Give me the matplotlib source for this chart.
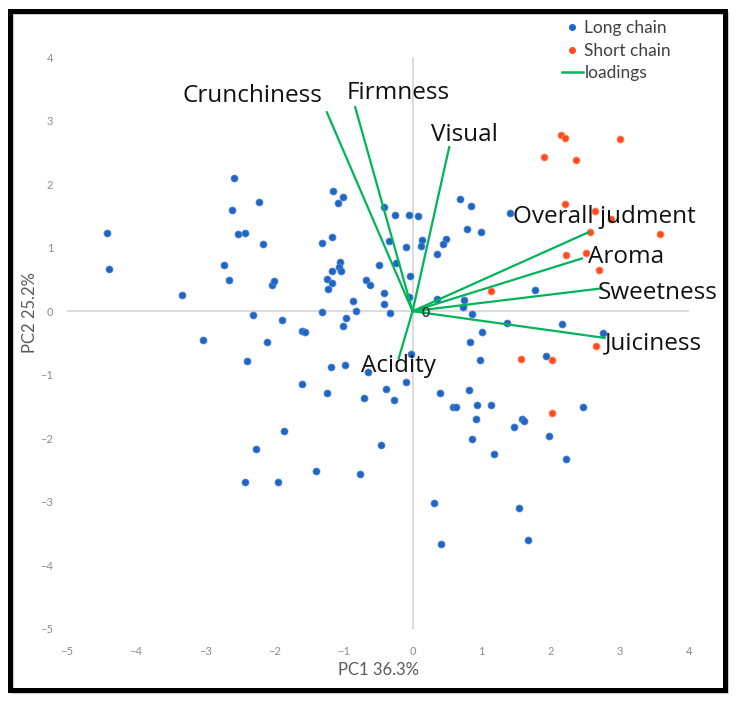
import matplotlib.pyplot as plt
from matplotlib.patches import Rectangle
from matplotlib.lines import Line2D

# scores, long chain (PC1, PC2)
long_x = [-4.42, -4.39, -3.33, -2.59, -2.61, -2.53, -2.42, -2.22, -2.17, -2.73,
          -2.65, -2.03, -2.01, -2.31, -1.89, -3.03, -2.10, -2.40, -1.60, -1.55,
          -1.60, -1.24, -1.18, -0.98, -1.31, -1.00, -0.97, -0.86, -0.82, -1.15,
          -1.08, -1.00, -1.31, -1.16, -1.05, -1.07, -1.03, -1.16, -1.24, -1.16,
          -1.22, -0.41, -0.26, -0.05, 0.08, 0.68, 0.84, 1.41, 0.79, 0.99,
          -0.34, -0.10, 0.14, 0.12, 0.48, 0.44, 0.36, -0.24, -0.49, -0.67,
          -0.61, -0.03, -0.42, -0.42, -0.33, -0.05, 0.36, 0.74, 0.73, 0.86,
          1.77, 1.37, 2.16, 2.75, 1.00, 0.83, -0.02, -0.64, -0.09, 0.97,
          1.93, -0.38, 0.39, 0.81, -0.70, -0.27, 0.58, 0.63, 0.93, 1.14,
          0.92, 2.46, 1.59, 1.61, 1.47, 0.86, 1.98, -0.45, 1.18, 2.22,
          -0.76, 0.31, 1.54, 0.41, 1.67, -1.86, -2.27, -1.39, -2.42, -1.95]
long_y = [1.23, 0.67, 0.26, 2.10, 1.60, 1.22, 1.23, 1.72, 1.06, 0.73,
          0.49, 0.42, 0.47, -0.06, -0.14, -0.45, -0.49, -0.78, -0.31, -0.33,
          -1.14, -1.29, -0.88, -0.85, -0.02, -0.23, -0.11, 0.16, 0.01, 1.89,
          1.71, 1.80, 1.08, 1.17, 0.78, 0.70, 0.63, 0.64, 0.50, 0.45,
          0.35, 1.64, 1.51, 1.52, 1.50, 1.76, 1.66, 1.54, 1.30, 1.24,
          1.10, 1.01, 1.12, 1.03, 1.14, 1.06, 0.90, 0.76, 0.72, 0.49,
          0.42, 0.56, 0.28, 0.12, -0.03, 0.22, 0.19, 0.18, 0.06, -0.05,
          0.33, -0.19, -0.20, -0.35, -0.33, -0.48, -0.67, -0.95, -1.12, -0.77,
          -0.71, -1.22, -1.29, -1.24, -1.36, -1.39, -1.50, -1.51, -1.47, -1.48,
          -1.69, -1.51, -1.70, -1.73, -1.82, -2.01, -1.97, -2.11, -2.24, -2.33,
          -2.56, -3.02, -3.09, -3.67, -3.60, -1.89, -2.17, -2.52, -2.68, -2.69]

# scores, short chain
short_x = [2.15, 2.21, 3.00, 1.90, 2.36, 2.21, 2.64, 2.87, 2.57, 3.58,
           2.22, 2.51, 2.70, 1.14, 2.66, 1.57, 2.02, 2.02]
short_y = [2.78, 2.72, 2.71, 2.42, 2.38, 1.68, 1.58, 1.45, 1.24, 1.22,
           0.89, 0.92, 0.65, 0.32, -0.55, -0.75, -0.77, -1.60]

# loadings (scaled)
load_names = ['Crunchiness', 'Firmness', 'Visual', 'Overall judment',
              'Aroma', 'Sweetness', 'Juiciness', 'Acidity']
load_x = [-1.24, -0.83, 0.53, 2.54, 2.45, 2.74, 2.78, -0.20]
load_y = [3.13, 3.21, 2.58, 1.24, 0.83, 0.36, -0.42, -0.74]

# where the loading names sit (data coords)
name_pos = [(-2.32, 3.38), (-0.21, 3.43), (0.75, 2.77), (2.78, 1.48),
            (3.09, 0.86), (3.55, 0.28), (3.48, -0.50), (-0.21, -0.86)]

blue = '#1f66c4'
red = '#ff4a1e'
green = '#00b45a'
tick_gray = '#8c8c8c'
label_gray = '#595959'

plt.rcParams['font.family'] = ['Lato', 'DejaVu Sans']

fig = plt.figure(figsize=(7.38, 7.03), dpi=100)
ax = fig.add_axes([0.0908, 0.1053, 0.8428, 0.8136])

ax.axhline(0, color='#d9d9d9', lw=1.3, zorder=1)
ax.axvline(0, color='#d9d9d9', lw=1.3, zorder=1)

ax.scatter(long_x, long_y, s=26, color=blue, edgecolors='#5a8fd6', linewidths=0.5, zorder=3)
ax.scatter(short_x, short_y, s=26, color=red, edgecolors='#ff9a78', linewidths=0.6, zorder=3)

for x, y in zip(load_x, load_y):
    ax.plot([0, x], [0, y], color=green, lw=1.6, zorder=4)

for name, (tx, ty) in zip(load_names, name_pos):
    ax.text(tx, ty, name, ha='center', va='center', fontsize=17.5,
            family=['Open Sans', 'DejaVu Sans'], color='#111111', zorder=5)
ax.text(0.19, -0.03, '0', ha='center', va='center', fontsize=10,
        color='#333333', fontweight='bold', zorder=5)

ax.set_xlim(-5, 4)
ax.set_ylim(-5, 4)
ax.set_xticks(range(-5, 5))
ax.set_yticks(range(-5, 5))
ax.tick_params(length=0, labelsize=8, colors=tick_gray)
ax.tick_params(axis='x', pad=12)
ax.tick_params(axis='y', pad=10)
for s in ax.spines.values():
    s.set_visible(False)

fig.text(378 / 738, 1 - 670 / 703, 'PC1 36.3%', ha='center', va='center',
         fontsize=12, color=label_gray)
fig.text(30 / 738, 1 - 312 / 703, 'PC2 25.2%', ha='center', va='center',
         fontsize=12, color=label_gray, rotation=90)

handles = [
    Line2D([], [], ls='none', marker='o', ms=4, color=blue, label='Long chain'),
    Line2D([], [], ls='none', marker='o', ms=4, color=red, label='Short chain'),
    Line2D([], [], color=green, lw=1.8, label='loadings'),
]
fig.legend(handles=handles, loc='upper left', bbox_to_anchor=(0.752, 0.981),
           frameon=False, fontsize=12.5, handlelength=1.2, handletextpad=0.1,
           labelspacing=0.38, labelcolor='#404040', borderaxespad=0)

# black frame round the whole picture
fig.patches.append(Rectangle((0.0158, 0.0155), 0.9695, 0.9659, transform=fig.transFigure,
                             fill=False, ec='#c8c8c8', lw=2))
fig.patches.append(Rectangle((0.0129, 0.0185), 0.9695, 0.9659, transform=fig.transFigure,
                             fill=False, ec='black', lw=3.6))

fig.savefig('out.png', dpi=100)
